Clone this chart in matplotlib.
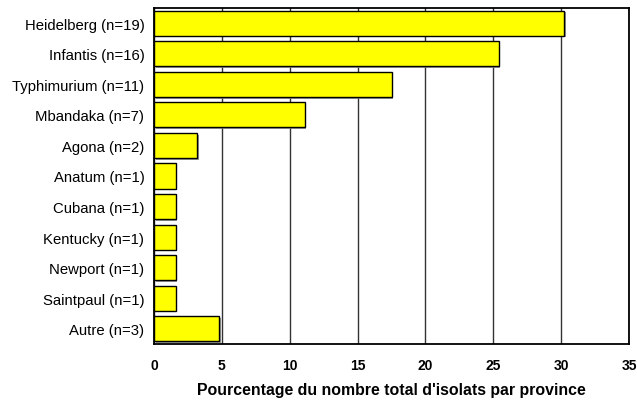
import matplotlib
matplotlib.use("Agg")
import matplotlib.pyplot as plt
import matplotlib.patheffects as pe

categories = ["Heidelberg (n=19)", "Infantis (n=16)", "Typhimurium (n=11)", "Mbandaka (n=7)",
              "Agona (n=2)", "Anatum (n=1)", "Cubana (n=1)", "Kentucky (n=1)",
              "Newport (n=1)", "Saintpaul (n=1)", "Autre (n=3)"]
values = [30.2, 25.4, 17.5, 11.1, 3.2, 1.6, 1.6, 1.6, 1.6, 1.6, 4.8]
xticks = [0, 5, 10, 15, 20, 25, 30, 35]

plt.rcParams['font.family'] = ['Liberation Sans', 'DejaVu Sans']

fig = plt.figure(figsize=(6.37, 4.02), dpi=100)
ax = fig.add_axes([154/637, 1 - 345/402, (629-154)/637, (345-9)/402])

ypos = list(range(len(categories)))
bars = ax.barh(ypos, values, height=0.82, color='#ffff00', edgecolor='black', linewidth=1.0, zorder=3)
for b in bars:
    b.set_path_effects([pe.SimplePatchShadow(offset=(1.2, -1.2), shadow_rgbFace='#808080', alpha=0.8), pe.Normal()])

ax.set_xlim(0, 35)
ax.set_ylim(len(categories) - 0.5, -0.5)
ax.set_xticks(xticks)
ax.set_xticklabels([str(t) for t in xticks], fontsize=10, fontweight='bold')
ax.set_yticks(ypos)
ax.set_yticklabels(categories, fontsize=10.7)
ax.tick_params(axis='x', length=0, pad=10)
ax.tick_params(axis='y', length=0, pad=7)
ax.xaxis.grid(True, color='#333333', linewidth=1.0, zorder=0)
ax.set_axisbelow(True)
for s in ax.spines.values():
    s.set_linewidth(1.3)
    s.set_color('black')
ax.set_xlabel("Pourcentage du nombre total d'isolats par province", fontsize=11.4, fontweight='bold', labelpad=7)

fig.savefig("out.png", dpi=100)
